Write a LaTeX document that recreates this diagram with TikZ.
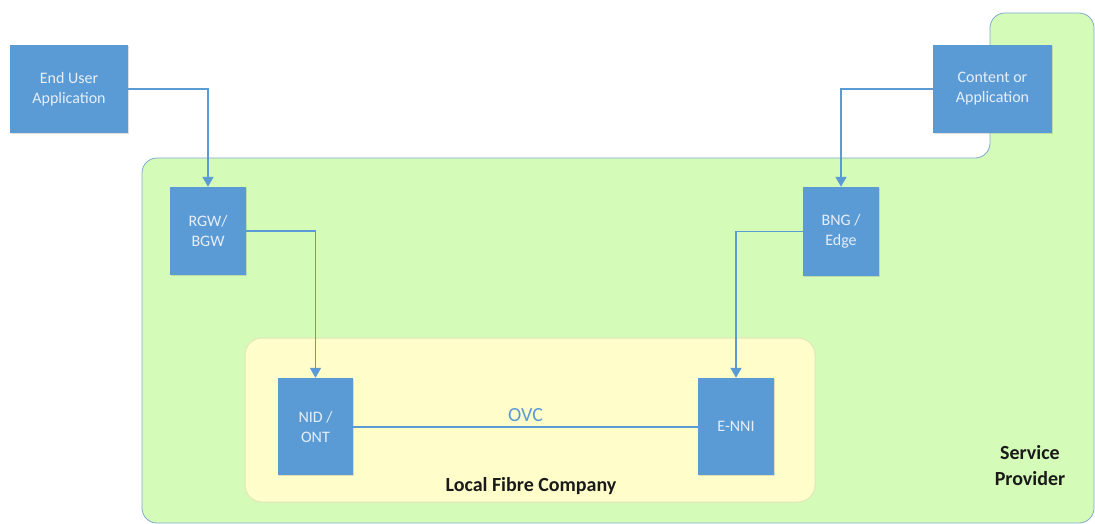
\documentclass[tikz,border=0pt]{standalone}
\usepackage{fontspec}
\setmainfont{Carlito}
\usetikzlibrary{arrows.meta,shadows}
\definecolor{boxblue}{HTML}{5B9BD5}
\definecolor{boxtext}{HTML}{E6EEF8}
\definecolor{spgreen}{HTML}{D4FBB8}
\definecolor{spedge}{HTML}{7FAAD0}
\definecolor{lfyellow}{HTML}{FFFECB}
\definecolor{lfedge}{HTML}{E2E6B8}
\definecolor{labeldark}{HTML}{1A1A1A}
\tikzset{
  unit/.style={fill=boxblue, draw=none, inner sep=0pt, align=center,
    text=boxtext, font=\fontsize{16}{20}\selectfont,
    drop shadow={shadow xshift=1.2pt, shadow yshift=-1.2pt, opacity=0.25}},
  link/.style={draw=boxblue, line width=1.6pt},
  feed/.style={link, -{Triangle[length=10pt, width=11pt]}},
  zonelabel/.style={font=\fontsize{20}{26}\selectfont\bfseries, text=labeldark, align=center}
}
\begin{document}
\begin{tikzpicture}[x=1pt, y=-1pt]
\useasboundingbox (0,0) rectangle (1095,524);
% service provider area (L-shaped)
\begin{scope}
\clip (0,0) rectangle (1095,524);
\path[fill=spgreen, draw=spedge, line width=0.8pt, rounded corners=15pt]
  (142,523) -- (142,158) -- (990,158) -- (990,13) -- (1094,13) -- (1094,523) -- cycle;
\end{scope}
% local fibre company area
\path[fill=lfyellow, draw=lfedge, line width=1pt, rounded corners=17pt]
  (245,338) rectangle (815,502);
% units
\node[unit, minimum width=118pt, minimum height=88pt] (eua) at (69,89) {End User\\Application};
\node[unit, minimum width=119pt, minimum height=88pt] (coa) at (992.5,89) {Content or\\Application};
\node[unit, minimum width=76pt, minimum height=88pt] (rgw) at (208,231) {RGW/\\BGW};
\node[unit, minimum width=76pt, minimum height=89pt] (bng) at (841,231.5) {BNG /\\Edge};
\node[unit, minimum width=75pt, minimum height=97pt] (nid) at (315.5,426.5) {NID /\\ONT};
\node[unit, minimum width=76pt, minimum height=97pt] (enni) at (736,426.5) {E-NNI};
% connectors
\draw[feed] (eua.east) -| (rgw.north);
\draw[feed] (rgw.east) -| (nid.north);
\draw[feed] (coa.west) -| (bng.north);
\draw[feed] (bng.west) -| (enni.north);
\draw[link] (nid.east |- 0,427) -- node[above=1pt, text=boxblue, font=\fontsize{20}{24}\selectfont] (ovc) {OVC} (enni.west |- 0,427);
% area labels
\node[zonelabel] (lfc) at (531,486) {Local Fibre Company};
\node[zonelabel] (sp) at (1030,466) {Service\\Provider};
\end{tikzpicture}
\end{document}
